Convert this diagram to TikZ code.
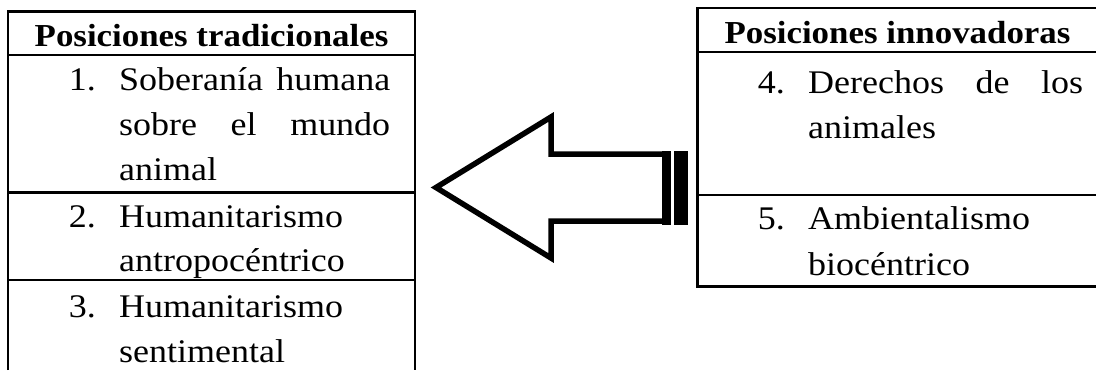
\documentclass[tikz,border=0pt]{standalone}
\usepackage{fontspec}
\setmainfont{Liberation Serif}[FakeStretch=1.09]
\begin{document}
\begin{tikzpicture}[x=1pt,y=-1pt,
  tline/.style={line width=2.8pt},
  aline/.style={line width=5.5pt, line join=miter},
  txt/.style={anchor=base west, inner sep=0pt, font=\fontsize{33}{40}\selectfont},
  num/.style={anchor=base east, inner sep=0pt, font=\fontsize{33}{40}\selectfont},
  hdr/.style={anchor=base, inner sep=0pt, font=\fontsize{32}{38}\selectfont\bfseries}]
\useasboundingbox (0,0) rectangle (1096,370);
% left table
\draw[tline] (8,370) -- (8,11.5) -- (415,11.5) -- (415,370);
\draw[tline] (8,55) -- (415,55);
\draw[tline] (8,192.5) -- (415,192.5);
\draw[tline] (8,280) -- (415,280);
\node[hdr] (h1) at (211.5,46) {Posiciones tradicionales};
\node[num] (n1) at (96,90) {1.};
\node[txt] (t1a) at (119,90) {\hbox to 271pt{Soberanía\hfill humana}};
\node[txt] (t1b) at (119,135) {\hbox to 271pt{sobre\hfill el\hfill mundo}};
\node[txt] (t1c) at (119,180) {animal};
\node[num] (n2) at (96,227) {2.};
\node[txt] (t2a) at (119,227) {Humanitarismo};
\node[txt] (t2b) at (119,271) {antropocéntrico};
\node[num] (n3) at (96,317) {3.};
\node[txt] (t3a) at (119,317) {Humanitarismo};
\node[txt] (t3b) at (119,362) {sentimental};
% right table
\begin{scope}
\clip (690,0) rectangle (1096,370);
\draw[tline] (1110,8) -- (697.5,8) -- (697.5,286.5) -- (1110,286.5);
\draw[tline] (697.5,52) -- (1110,52);
\draw[tline] (697.5,195) -- (1110,195);
\end{scope}
\node[hdr] (h2) at (897.5,43) {Posiciones innovadoras};
\node[num] (n4) at (785,93) {4.};
\node[txt] (t4a) at (808,93) {\hbox to 275pt{Derechos\hfill de\hfill los}};
\node[txt] (t4b) at (808,138) {animales};
\node[num] (n5) at (785,229) {5.};
\node[txt] (t5a) at (808,229) {Ambientalismo};
\node[txt] (t5b) at (808,275) {biocéntrico};
% arrow
\coordinate (tip) at (436,187.5);
\draw[aline, fill=white] (tip) -- (551,117) -- (551,154) -- (665,154) -- (665,221) -- (551,221) -- (551,258) -- cycle;
\fill (662,150.5) rectangle (671,224.5);
\fill (674,150.5) rectangle (688,224.5);
\end{tikzpicture}
\end{document}
